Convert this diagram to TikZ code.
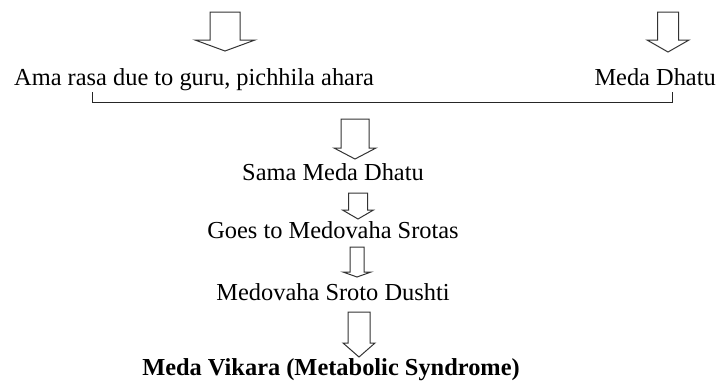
\documentclass[tikz,border=0pt]{standalone}
\usepackage{fontspec}
\setmainfont{Liberation Serif}
\usepackage{tikz}
\usetikzlibrary{calc}

% hollow block arrow: centre x, top y, shaft end y, tip y, half shaft, half head
\newcommand{\hollowarrow}[6]{%
  \draw[blockarrow] (#1-#5,#2) -- (#1+#5,#2) -- (#1+#5,#3) -- (#1+#6,#3)
    -- (#1,#4) -- (#1-#6,#3) -- (#1-#5,#3) -- cycle;}

\begin{document}
\begin{tikzpicture}[x=1pt, y=-1pt, every node/.style={inner sep=0pt, font=\fontsize{24.4}{28}\selectfont}, blockarrow/.style={draw=black!80, fill=white, line width=1pt, line join=miter}, bracket/.style={draw=black!85, line width=1pt}]
  \useasboundingbox (0,0) rectangle (717,381);
  % arrows
  \hollowarrow{225}{12}{40}{51}{15}{30}
  \hollowarrow{668}{12}{40}{52}{10.5}{21}
  \hollowarrow{355}{119}{148}{159}{14}{21}
  \hollowarrow{358}{193}{210}{219}{9.5}{15.5}
  \hollowarrow{357}{247}{272}{277}{7}{14}
  \hollowarrow{359}{312}{343}{357}{11}{16}
  % texts
  \node[anchor=base west] (ama) at (14,85) {Ama rasa due to guru, pichhila ahara};
  \node[anchor=base east] (meda) at (716,85) {Meda Dhatu};
  \node[anchor=base] (sama) at (333,180) {Sama Meda Dhatu};
  \node[anchor=base] (goes) at (333,238) {Goes to Medovaha Srotas};
  \node[anchor=base] (dushti) at (333,300) {Medovaha Sroto Dushti};
  \node[anchor=base] (vikara) at (331,375) {\bfseries Meda Vikara (Metabolic Syndrome)};
  % bracket
  \coordinate (bl) at (92,92);
  \coordinate (br) at (672,92);
  \draw[bracket] (bl) -- ++(0,10) -| (br);
\end{tikzpicture}
\end{document}
